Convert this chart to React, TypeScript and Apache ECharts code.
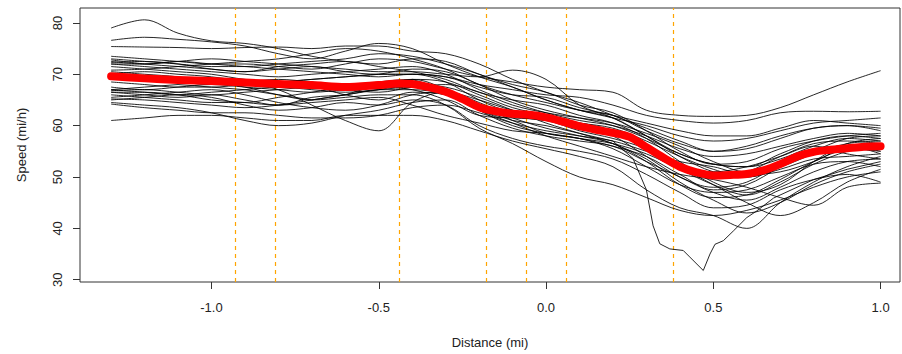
import React, { useEffect, useRef } from "react";
import * as echarts from "echarts";

// Distance grid (mi) shared by most traces
const DIST = [-1.3, -1.2, -1.1, -1.0, -0.9, -0.8, -0.7, -0.6, -0.5, -0.4, -0.3, -0.2, -0.1, 0.0, 0.1, 0.2, 0.3, 0.4, 0.5, 0.6, 0.7, 0.8, 0.9, 1.0];

// Individual runs (speed, mi/h)
const T01 = [79.0, 80.6, 78.0, 76.5, 76.0, 75.0, 73.5, 72.5, 72.0, 73.0, 72.5, 70.0, 68.0, 66.5, 64.0, 62.5, 59.0, 55.0, 52.5, 53.0, 55.5, 57.0, 58.0, 58.5];
const T02 = [76.6, 77.2, 76.8, 76.3, 75.5, 74.0, 73.0, 74.5, 76.0, 75.0, 72.0, 69.5, 67.5, 65.0, 63.0, 61.5, 58.0, 54.0, 51.0, 50.0, 52.0, 55.0, 57.5, 58.0];
const T03 = [75.4, 75.3, 75.2, 75.0, 75.2, 75.3, 75.0, 75.5, 75.5, 74.5, 74.0, 72.0, 69.0, 66.5, 64.5, 62.0, 59.5, 57.0, 55.0, 56.0, 58.0, 59.5, 60.0, 59.5];
const T04 = [72.5, 72.0, 72.5, 73.0, 72.5, 72.0, 71.5, 71.0, 70.5, 70.5, 70.0, 69.5, 70.8, 69.0, 64.0, 61.5, 58.0, 54.5, 52.5, 52.0, 53.5, 56.0, 57.5, 57.0];
const T05 = [73.5, 73.0, 72.5, 72.0, 72.0, 71.5, 71.0, 72.0, 73.0, 72.5, 71.0, 69.5, 68.5, 67.5, 67.0, 66.5, 63.0, 62.0, 61.8, 62.0, 63.5, 66.0, 68.5, 70.7];
const T06 = [72.8, 72.0, 71.5, 71.0, 70.5, 71.0, 71.5, 70.5, 70.0, 70.0, 69.5, 68.0, 67.0, 66.0, 65.5, 64.0, 62.0, 61.0, 60.5, 61.0, 62.5, 62.8, 62.7, 62.8];
const T08 = [70.0, 70.5, 70.0, 69.5, 68.5, 67.0, 64.0, 61.0, 59.0, 64.5, 66.5, 65.0, 63.0, 62.0, 60.0, 58.5, 56.0, 52.0, 50.0, 51.0, 54.0, 56.5, 57.0, 56.5];
const T09 = [66.5, 66.0, 65.5, 66.0, 65.0, 64.0, 65.5, 66.0, 67.0, 67.0, 66.0, 63.0, 60.5, 58.0, 56.0, 54.0, 52.0, 50.5, 49.5, 48.0, 46.0, 44.5, 48.0, 48.8];
const T10 = [66.8, 67.0, 66.5, 66.0, 66.5, 67.0, 67.5, 66.0, 65.0, 66.5, 66.0, 63.0, 61.0, 58.5, 57.5, 55.5, 52.0, 48.5, 47.0, 47.5, 50.0, 52.5, 53.0, 52.0];
const T11 = [64.5, 64.0, 63.5, 62.5, 61.0, 60.0, 60.5, 62.0, 63.0, 64.5, 65.0, 62.0, 59.5, 58.0, 57.0, 56.0, 53.0, 50.0, 47.0, 45.5, 48.0, 51.0, 53.0, 53.5];
const T12 = [61.0, 61.5, 62.0, 62.0, 61.5, 61.0, 61.0, 62.0, 62.0, 62.0, 61.0, 59.0, 57.0, 55.5, 54.0, 52.0, 47.5, 44.0, 42.5, 40.0, 45.0, 49.0, 52.0, 54.0];
const T13 = [65.0, 65.5, 66.0, 65.5, 64.0, 63.0, 63.5, 64.5, 64.0, 65.0, 64.0, 60.0, 57.5, 56.0, 55.0, 53.5, 50.5, 47.0, 44.0, 44.5, 47.5, 49.5, 50.5, 49.0];
const T14 = [70.5, 70.0, 69.5, 68.5, 67.5, 66.0, 65.0, 65.5, 66.0, 66.0, 64.0, 59.5, 56.5, 53.0, 50.0, 48.5, 46.0, 43.5, 42.5, 43.5, 45.5, 48.0, 50.0, 51.0];
const T15 = [72.0, 71.5, 71.0, 70.5, 70.0, 69.5, 70.0, 70.5, 71.0, 71.5, 70.0, 67.0, 64.5, 62.5, 61.0, 60.0, 58.0, 55.5, 54.0, 54.5, 56.0, 57.5, 58.5, 58.0];
const T16 = [72.3, 72.5, 72.0, 71.0, 70.5, 71.5, 72.0, 72.5, 71.5, 70.5, 69.0, 66.5, 65.0, 64.0, 62.0, 60.5, 57.5, 53.0, 49.0, 47.0, 48.5, 53.0, 56.5, 57.5];
const T17 = [69.0, 69.0, 68.5, 68.0, 68.5, 69.0, 68.5, 68.0, 68.0, 69.0, 68.5, 66.0, 63.5, 62.0, 60.0, 58.0, 54.0, 50.0, 48.0, 49.0, 52.5, 55.0, 56.0, 55.0];
const T18 = [67.5, 67.0, 67.5, 68.0, 67.5, 67.0, 66.5, 67.0, 67.5, 67.0, 65.0, 62.0, 61.5, 61.0, 59.0, 57.5, 55.5, 52.5, 51.0, 52.0, 54.0, 56.0, 54.5, 53.5];
const T19 = [66.0, 65.5, 65.0, 64.5, 64.5, 65.5, 66.5, 67.5, 68.5, 69.0, 67.0, 63.0, 60.0, 58.5, 57.5, 56.5, 54.5, 51.5, 48.5, 46.5, 49.0, 52.5, 55.0, 56.5];
const T20 = [73.0, 72.5, 72.0, 71.5, 71.5, 72.0, 72.5, 73.0, 74.0, 73.5, 72.0, 70.0, 67.5, 65.0, 63.0, 61.5, 60.0, 58.0, 57.0, 57.5, 59.0, 60.5, 61.0, 61.5];
const T21 = [70.0, 69.5, 69.0, 69.0, 68.5, 68.0, 67.5, 67.0, 66.5, 67.5, 68.0, 66.5, 64.0, 62.5, 61.5, 60.5, 58.5, 56.0, 53.0, 51.0, 52.0, 54.5, 56.5, 57.0];
const T22 = [64.2, 63.5, 63.0, 62.5, 62.5, 62.0, 61.5, 61.5, 62.0, 63.5, 64.0, 62.5, 60.5, 59.0, 58.0, 57.0, 55.0, 53.0, 52.0, 50.5, 51.0, 53.0, 55.5, 55.0];
const T23 = [71.5, 71.0, 70.5, 70.0, 69.0, 68.5, 69.0, 69.5, 70.0, 70.0, 68.5, 65.0, 62.5, 61.5, 60.5, 59.5, 57.0, 54.0, 51.5, 50.0, 51.5, 53.5, 54.0, 54.5];
const T24 = [67.0, 66.5, 66.0, 66.5, 67.0, 67.5, 67.0, 66.5, 67.0, 67.5, 67.0, 64.5, 62.0, 61.0, 60.5, 59.0, 56.0, 52.0, 48.5, 45.0, 42.5, 45.0, 49.0, 51.5];
const T25 = [72.0, 72.0, 72.5, 72.0, 71.5, 71.0, 70.5, 70.0, 69.5, 70.0, 69.5, 67.5, 66.0, 65.5, 63.5, 62.0, 60.5, 59.0, 58.0, 58.0, 59.5, 61.0, 60.5, 60.0];
const T26 = [65.2, 65.0, 64.5, 64.0, 63.5, 64.0, 65.0, 66.0, 67.0, 68.0, 67.5, 65.5, 63.0, 60.5, 58.5, 56.5, 53.5, 49.0, 45.5, 43.0, 45.0, 48.5, 51.0, 52.5];
const T27 = [68.5, 68.0, 67.5, 67.5, 68.0, 68.5, 69.0, 69.5, 70.0, 71.0, 70.5, 68.0, 65.0, 63.0, 61.5, 60.0, 57.5, 54.5, 52.5, 52.0, 54.5, 57.0, 58.0, 57.5];
const T28 = [66.5, 66.5, 66.0, 65.0, 64.5, 64.0, 64.5, 65.0, 65.5, 64.0, 62.0, 60.5, 59.0, 58.5, 57.5, 56.0, 54.0, 50.5, 47.5, 48.5, 52.0, 55.5, 56.0, 54.5];
const T29 = [70.8, 71.0, 71.5, 72.0, 72.5, 73.0, 74.0, 75.0, 74.5, 73.0, 71.0, 68.0, 66.0, 64.5, 63.0, 62.0, 59.0, 56.5, 55.0, 55.5, 57.5, 59.5, 60.0, 59.0];
const T30 = [65.5, 66.0, 66.5, 67.0, 66.0, 64.5, 63.5, 63.0, 64.0, 66.0, 66.5, 64.0, 61.5, 59.5, 58.0, 56.5, 53.0, 48.5, 46.0, 46.5, 49.5, 53.0, 55.5, 56.0];
const RUNS = [T01, T02, T03, T04, T05, T06, T08, T09, T10, T11, T12, T13, T14, T15, T16, T17, T18, T19, T20, T21, T22, T23, T24, T25, T26, T27, T28, T29, T30];

// Run with the deep slowdown near 0.47 mi (own distance grid)
const DIP_X = [-1.3, -1.2, -1.1, -1.0, -0.9, -0.8, -0.7, -0.6, -0.5, -0.4, -0.3, -0.2, -0.1, 0.0, 0.1, 0.2, 0.26, 0.3, 0.32, 0.34, 0.37, 0.41, 0.43, 0.47, 0.49, 0.505, 0.53, 0.56, 0.6, 0.63, 0.68, 0.8, 0.9, 1.0];
const DIP_Y = [67.0, 67.5, 68.0, 67.5, 67.0, 66.0, 65.0, 66.0, 68.0, 69.0, 67.0, 64.0, 61.0, 60.0, 58.5, 57.0, 53.6, 47.5, 40.5, 37.0, 36.0, 35.7, 34.4, 31.8, 35.0, 36.9, 37.6, 39.5, 42.1, 43.4, 45.9, 49.5, 51.5, 53.0];

// Mean speed profile (red)
const MEAN_X = [-1.3, -1.2, -1.1, -1.0, -0.9, -0.8, -0.7, -0.6, -0.5, -0.44, -0.4, -0.35, -0.3, -0.25, -0.2, -0.15, -0.1, -0.05, 0.0, 0.05, 0.1, 0.15, 0.2, 0.25, 0.3, 0.35, 0.4, 0.45, 0.5, 0.55, 0.6, 0.65, 0.7, 0.75, 0.8, 0.85, 0.9, 0.95, 1.0];
const MEAN_Y = [69.6, 69.2, 68.9, 68.7, 68.4, 68.1, 67.9, 67.5, 67.9, 68.2, 68.1, 67.5, 66.6, 65.2, 63.6, 62.8, 62.3, 62.1, 61.6, 60.8, 59.9, 59.2, 58.6, 57.8, 55.8, 53.8, 52.0, 50.9, 50.3, 50.4, 50.6, 51.3, 52.5, 54.0, 54.9, 55.3, 55.6, 55.9, 56.0];

// Reference distances (vertical dashed lines)
const MARKS = [-0.932, -0.809, -0.4365, -0.18, -0.0607, 0.0607, 0.379];

const X_TICKS = [-1.0, -0.5, 0.0, 0.5, 1.0];
const Y_TICKS = [30, 40, 50, 60, 70, 80];

export default function App() {
  const ref = useRef<HTMLDivElement>(null);
  useEffect(() => {
    if (!ref.current) return;
    const chart = echarts.init(ref.current, null, { renderer: "svg" });
    const font = "Liberation Sans, Arial, sans-serif";
    const series: any[] = [];
    RUNS.forEach((run, i) => {
      series.push({
        type: "line",
        name: "run" + i,
        data: DIST.map((d, j) => [d, run[j]]),
        showSymbol: false,
        smooth: 0.35,
        lineStyle: { color: "#000", width: 1, opacity: 0.85 },
        z: 2,
        silent: true,
      });
    });
    series.push({
      type: "line",
      name: "dip",
      data: DIP_X.map((d, j) => [d, DIP_Y[j]]),
      showSymbol: false,
      smooth: false,
      lineStyle: { color: "#000", width: 1, opacity: 0.85 },
      z: 2,
      silent: true,
    });
    series.push({
      type: "line",
      name: "mean",
      data: MEAN_X.map((d, j) => [d, MEAN_Y[j]]),
      showSymbol: false,
      smooth: 0.3,
      lineStyle: { color: "#FF0000", width: 8, cap: "round", join: "round" },
      z: 5,
      silent: true,
      markLine: {
        silent: true,
        symbol: ["none", "none"],
        label: { show: false },
        lineStyle: { color: "#FFA500", width: 1.2, type: [4, 4], opacity: 1 },
        data: MARKS.map((m) => ({ xAxis: m })),
        z: 1,
      },
    });
    chart.setOption({
      animation: false,
      grid: {
        left: 80,
        right: 2,
        top: 8,
        bottom: 69,
        show: true,
        borderColor: "#333",
        borderWidth: 1,
        backgroundColor: "#fff",
      },
      xAxis: {
        type: "value",
        min: -1.393,
        max: 1.058,
        axisLine: { show: false, onZero: false },
        splitLine: { show: false },
        axisTick: {
          show: true,
          length: 7,
          lineStyle: { color: "#333" },
          customValues: X_TICKS,
        },
        axisLabel: {
          customValues: X_TICKS,
          formatter: (v: number) => v.toFixed(1),
          color: "#222",
          fontFamily: font,
          fontSize: 13,
          margin: 19,
        },
        name: "Distance (mi)",
        nameLocation: "middle",
        nameGap: 54,
        nameTextStyle: { color: "#222", fontFamily: font, fontSize: 13 },
      },
      yAxis: {
        type: "value",
        min: 29.56,
        max: 82.9,
        axisLine: { show: false, onZero: false },
        splitLine: { show: false },
        axisTick: {
          show: true,
          length: 7,
          lineStyle: { color: "#333" },
          customValues: Y_TICKS,
        },
        axisLabel: {
          customValues: Y_TICKS,
          rotate: 90,
          color: "#222",
          fontFamily: font,
          fontSize: 13,
          margin: 16,
        },
        name: "Speed (mi/h)",
        nameLocation: "middle",
        nameGap: 52,
        nameRotate: 90,
        nameTextStyle: { color: "#222", fontFamily: font, fontSize: 13 },
      },
      series,
    });
    return () => chart.dispose();
  }, []);
  return (
    <div
      ref={ref}
      style={{ position: "fixed", left: 0, top: 0, width: 902, height: 354, background: "#fff" }}
    />
  );
}
